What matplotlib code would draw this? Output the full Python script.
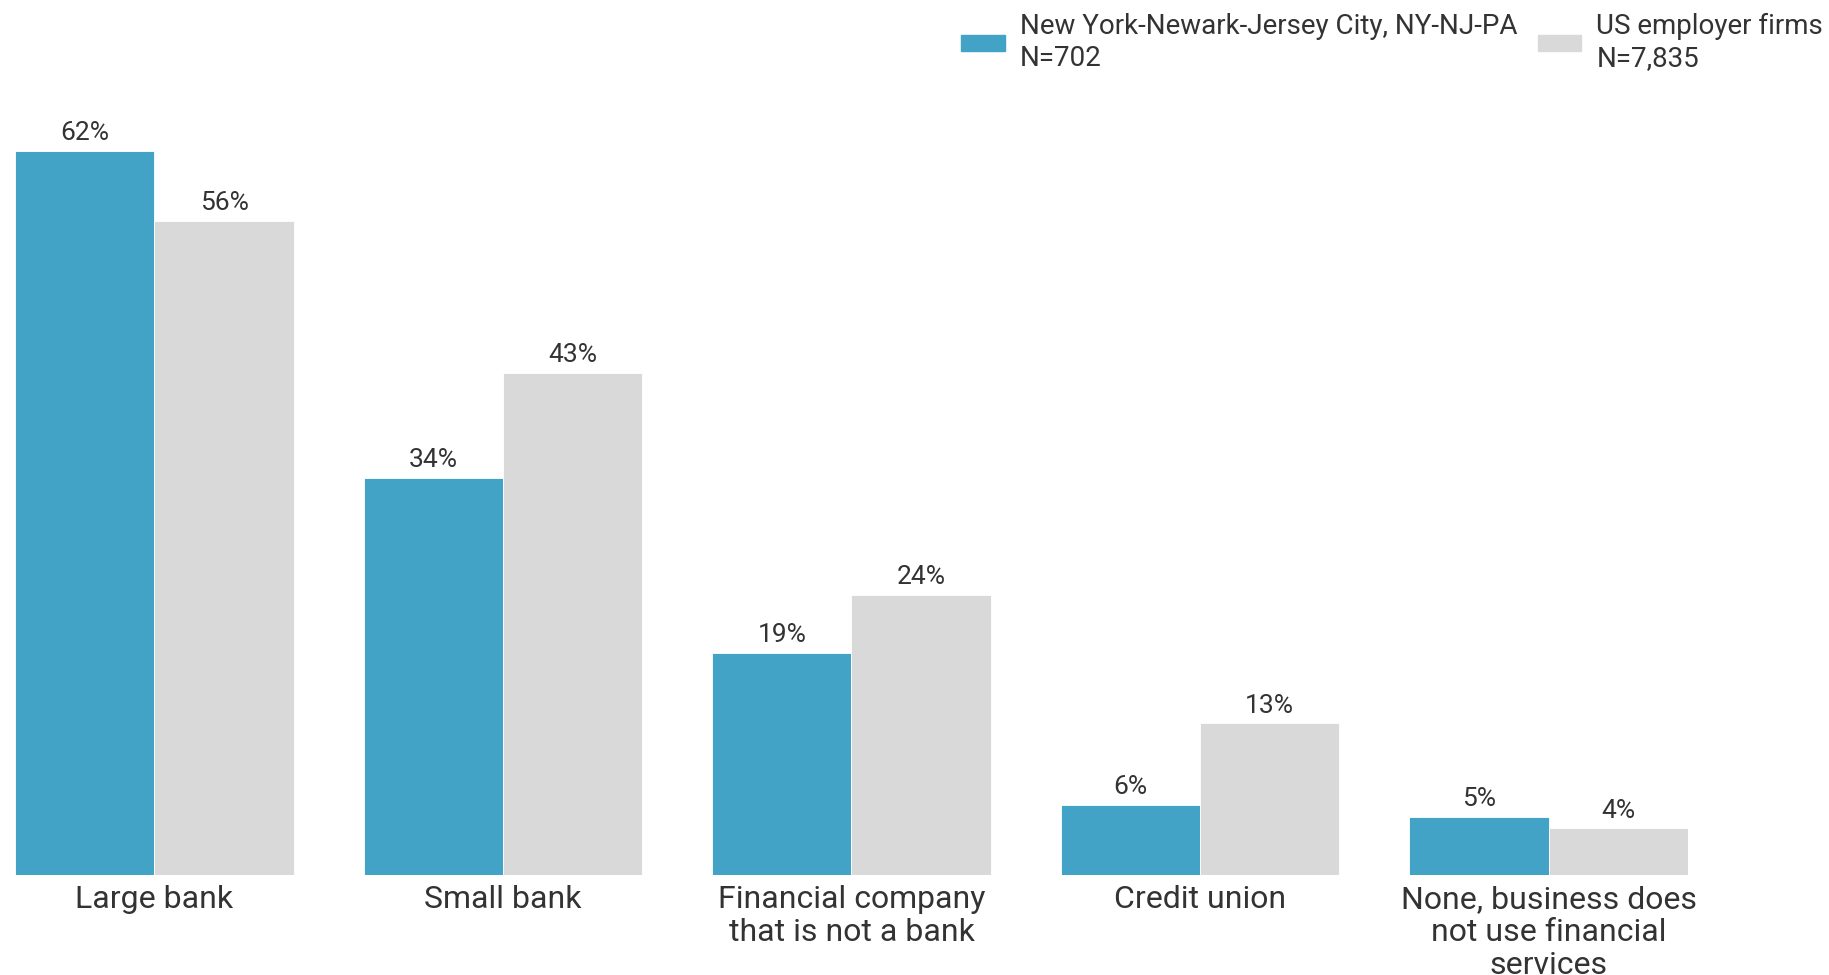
import numpy as np
import matplotlib.pyplot as plt
from matplotlib.patches import Patch

plt.rcParams['font.family'] = ['Roboto', 'DejaVu Sans']

CATEGORIES = ["Large bank", "Small bank", "Financial company\nthat is not a bank",
              "Credit union", "None, business does\nnot use financial\nservices"]
NY_VALUES = [62, 34, 19, 6, 5]
US_VALUES = [56, 43, 24, 13, 4]
SERIES_NAMES = ["New York-Newark-Jersey City, NY-NJ-PA\nN=702", "US employer firms\nN=7,835"]

BLUE = '#42a3c7'
GREY = '#d9d9d9'
TEXT = '#333333'

fig = plt.figure(figsize=(18.29, 9.75), dpi=100)
ax = fig.add_axes([15 / 1829, 100 / 975, (1688 - 15) / 1829, 771 / 975])

x = np.arange(len(CATEGORIES))
w = 0.4
b1 = ax.bar(x - w / 2, NY_VALUES, w, color=BLUE, edgecolor='white', linewidth=0.6)
b2 = ax.bar(x + w / 2, US_VALUES, w, color=GREY, edgecolor='white', linewidth=0.6)

for bars, vals in [(b1, NY_VALUES), (b2, US_VALUES)]:
    for rect, v in zip(bars, vals):
        ax.annotate("{}%".format(v), (rect.get_x() + rect.get_width() / 2, v),
                    xytext=(0, 4), textcoords='offset points', ha='center', va='bottom',
                    fontsize=19, color=TEXT)

ax.set_xlim(-0.4, 4.4)
ax.set_ylim(0, 66)
ax.set_xticks(x)
ax.set_xticklabels(CATEGORIES, fontsize=23, color=TEXT, linespacing=1.16)
ax.tick_params(axis='x', length=0, pad=7.5)
ax.set_yticks([])
for s in ax.spines.values():
    s.set_visible(False)

handles = [Patch(color=BLUE), Patch(color=GREY)]
fig.legend(handles, SERIES_NAMES, loc='upper right', bbox_to_anchor=(1.0105, 1.012), ncol=2,
           frameon=False, fontsize=20, handlelength=1.55, handleheight=0.55,
           columnspacing=0.75, handletextpad=0.55, labelcolor=TEXT, labelspacing=0.2)

fig.savefig('out.png', dpi=100)
